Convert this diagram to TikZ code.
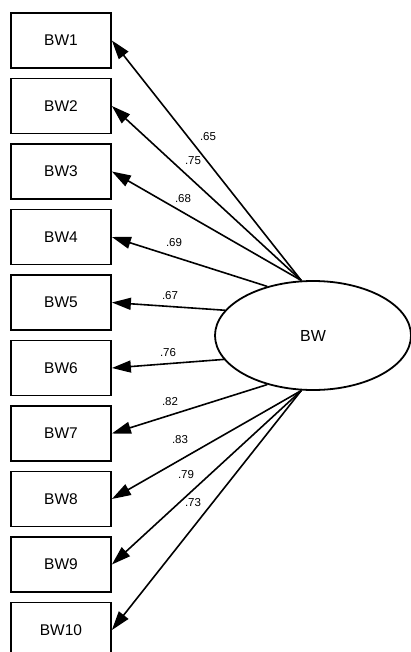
\documentclass[tikz,border=0pt]{standalone}
\usepackage{fontspec}
\setmainfont{Liberation Sans}
\usetikzlibrary{arrows.meta,shapes.geometric}

\tikzset{
  indicator/.style={draw, line width=1.8pt, minimum width=100pt, minimum height=55pt,
    inner sep=0pt, font=\fontsize{15.5}{18}\selectfont},
  factor/.style={draw, ellipse, line width=1.8pt, minimum width=196pt, minimum height=109pt,
    inner sep=0pt, font=\fontsize{16}{19}\selectfont},
  loading/.style={line width=1.6pt, -{Triangle[length=19pt,width=12pt]}},
  weight/.style={font=\fontsize{11.5}{13}\selectfont, inner sep=0pt}
}

\begin{document}
\begin{tikzpicture}[x=1pt,y=-1pt]
  \useasboundingbox (0,0) rectangle (410,652);

  % observed indicators
  \node[indicator] (b1)  at (61,40.5)  {BW1};
  \node[indicator] (b2)  at (61,106)   {BW2};
  \node[indicator] (b3)  at (61,171.5) {BW3};
  \node[indicator] (b4)  at (61,237)   {BW4};
  \node[indicator] (b5)  at (61,302.5) {BW5};
  \node[indicator] (b6)  at (61,368)   {BW6};
  \node[indicator] (b7)  at (61,433.5) {BW7};
  \node[indicator] (b8)  at (61,499)   {BW8};
  \node[indicator] (b9)  at (61,564.5) {BW9};
  \node[indicator] (b10) at (61,630)   {BW10};

  % latent factor
  \node[factor] (bw) at (313,335.5) {BW};

  % factor loadings
  \draw[loading] (bw.102)   -- (b1.east);
  \draw[loading] (bw.102)   -- (b2.east);
  \draw[loading] (bw.102)   -- (b3.east);
  \draw[loading] (bw.133)   -- (b4.east);
  \draw[loading] (bw.164.5) -- (b5.east);
  \draw[loading] (bw.195.5) -- (b6.east);
  \draw[loading] (bw.227)   -- (b7.east);
  \draw[loading] (bw.258)   -- (b8.east);
  \draw[loading] (bw.258)   -- (b9.east);
  \draw[loading] (bw.258)   -- (b10.east);

  % standardized weights
  \node[weight] (w1)  at (208,137) {.65};
  \node[weight] (w2)  at (193,161) {.75};
  \node[weight] (w3)  at (183,199) {.68};
  \node[weight] (w4)  at (174,243) {.69};
  \node[weight] (w5)  at (170,296) {.67};
  \node[weight] (w6)  at (168,353) {.76};
  \node[weight] (w7)  at (170,402) {.82};
  \node[weight] (w8)  at (180,440) {.83};
  \node[weight] (w9)  at (186,475) {.79};
  \node[weight] (w10) at (193,503) {.73};
\end{tikzpicture}
\end{document}
